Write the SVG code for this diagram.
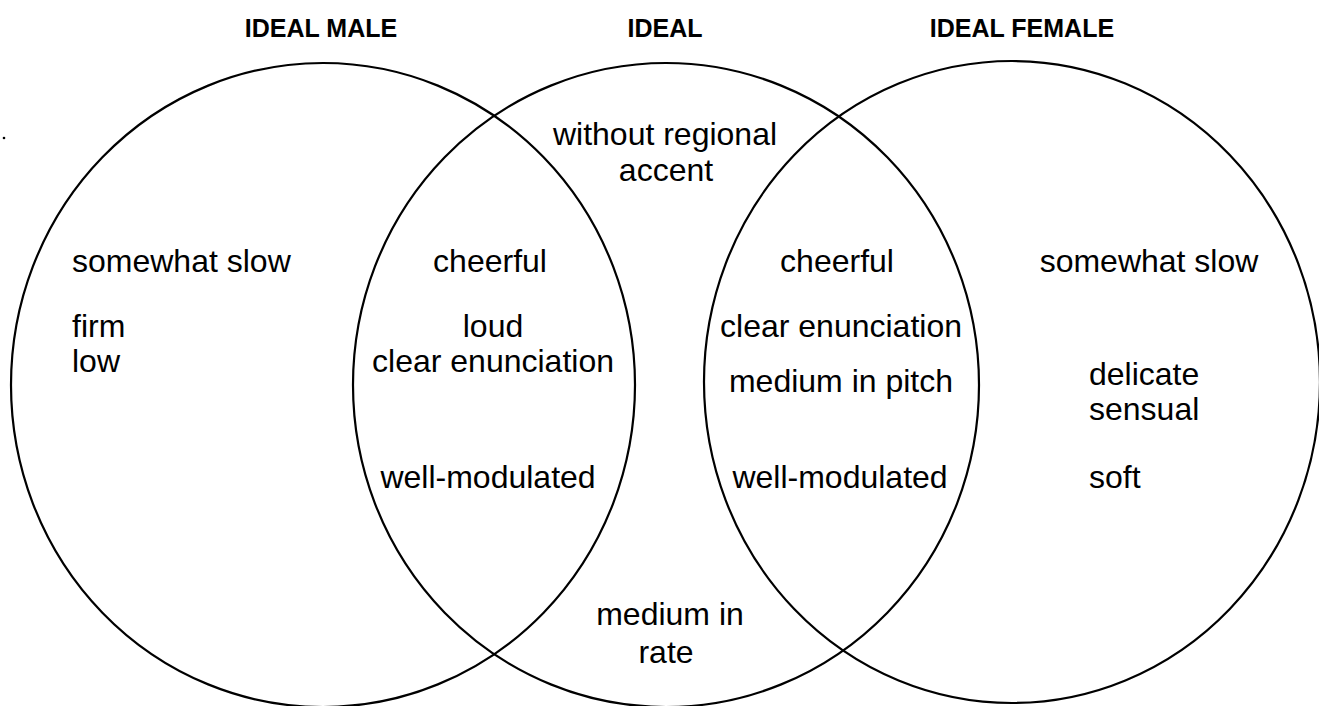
<svg xmlns="http://www.w3.org/2000/svg" width="1319" height="706" viewBox="0 0 1319 706">
<style>
.ring{fill:none;stroke:#000;stroke-width:2.2}
.t{font-family:"Liberation Sans",Arial,sans-serif;font-size:32px;fill:#000}
.c{text-anchor:middle}
.h{font-family:"Liberation Sans",Arial,sans-serif;font-size:25px;font-weight:bold;fill:#000;text-anchor:middle}
</style>
<rect width="1319" height="706" fill="#fff"/>
<g id="male">
<ellipse class="ring" cx="323" cy="385" rx="312" ry="322"/>
<text class="h" x="321" y="37">IDEAL MALE</text>
<text class="t" x="72" y="272">somewhat slow</text>
<text class="t" x="72" y="337">firm</text>
<text class="t" x="72" y="372">low</text>
</g>
<g id="ideal">
<ellipse class="ring" cx="666" cy="385" rx="313" ry="322"/>
<text class="h" x="665" y="37">IDEAL</text>
<text class="t c" x="665" y="145">without regional</text>
<text class="t c" x="666" y="181">accent</text>
<text class="t c" x="670" y="625">medium in</text>
<text class="t c" x="666" y="663">rate</text>
</g>
<g id="female">
<ellipse class="ring" cx="1012" cy="382" rx="308" ry="321"/>
<text class="h" x="1022" y="37">IDEAL FEMALE</text>
<text class="t c" x="1149" y="272">somewhat slow</text>
<text class="t" x="1089" y="385">delicate</text>
<text class="t" x="1089" y="420">sensual</text>
<text class="t" x="1089" y="488">soft</text>
</g>
<g id="male-ideal">
<text class="t c" x="490" y="272">cheerful</text>
<text class="t c" x="493" y="337">loud</text>
<text class="t c" x="493" y="372">clear enunciation</text>
<text class="t c" x="488" y="488">well-modulated</text>
</g>
<g id="ideal-female">
<text class="t c" x="837" y="272">cheerful</text>
<text class="t c" x="841" y="337">clear enunciation</text>
<text class="t c" x="841" y="392">medium in pitch</text>
<text class="t c" x="840" y="488">well-modulated</text>
</g>
<g id="connectors"></g>
<circle cx="4" cy="138" r="1.3" fill="#000"/>
</svg>
